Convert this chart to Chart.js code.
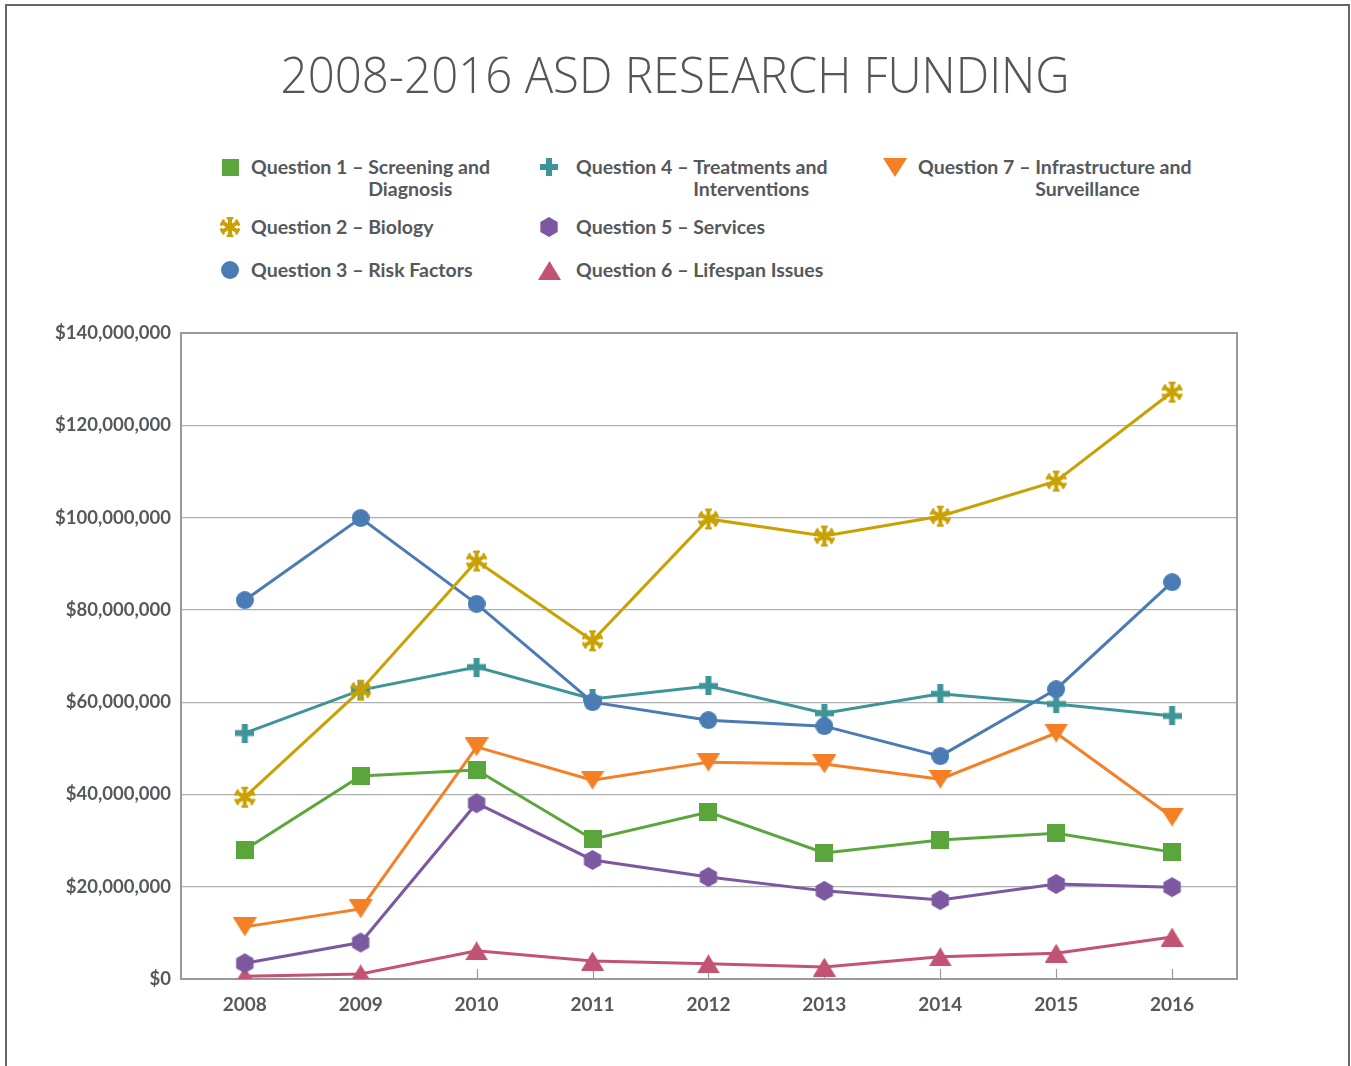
<!DOCTYPE html>
<html>
<head>
<meta charset="utf-8">
<script src="https://cdn.jsdelivr.net/npm/chart.js@4.4.1/dist/chart.umd.min.js"></script>
<style>
  html, body { margin:0; padding:0; background:#fff; }
  body { width:1351px; height:1066px; position:relative; overflow:hidden; font-family:Lato, "Open Sans", sans-serif; }
  #frame { position:absolute; left:5px; top:4px; width:1345px; height:1070px; border:2.5px solid #666; box-sizing:border-box; }
  #title { position:absolute; left:0; top:44px; width:1351px; text-align:center; font-family:"Open Sans", sans-serif; font-weight:300; font-size:50px; color:#555; line-height:60px; white-space:nowrap; }
  #title span { display:inline-block; transform-origin:center; }
  .lg { position:absolute; font-weight:700; font-size:19.5px; letter-spacing:0px; color:#55585c; line-height:22px; white-space:nowrap; }
  .lg .d { display:inline-block; vertical-align:top; }
  #wrap { position:absolute; left:0; top:300px; width:1351px; height:722px; }
</style>
</head>
<body>
<div id="frame"></div>
<div id="title"><span id="tspan">2008-2016 ASD RESEARCH FUNDING</span></div>
<div id="legend"></div>
<div id="wrap"><canvas id="c"></canvas></div>
<script>
const years = [2008, 2009, 2010, 2011, 2012, 2013, 2014, 2015, 2016];
const seriesNames = [
  "Question 1 – Screening and Diagnosis",
  "Question 2 – Biology",
  "Question 3 – Risk Factors",
  "Question 4 – Treatments and Interventions",
  "Question 5 – Services",
  "Question 6 – Lifespan Issues",
  "Question 7 – Infrastructure and Surveillance"
];
const q1 = [28.0, 44.0, 45.3, 30.3, 36.2, 27.3, 30.1, 31.6, 27.5];
const q2 = [39.4, 62.6, 90.6, 73.3, 99.7, 96.0, 100.3, 107.9, 127.2];
const q3 = [82.1, 99.9, 81.3, 60.0, 56.1, 54.8, 48.3, 62.8, 86.0];
const q4 = [53.3, 62.6, 67.6, 60.7, 63.5, 57.6, 61.8, 59.6, 57.0];
const q5 = [3.4, 7.9, 38.1, 25.8, 22.1, 19.1, 17.1, 20.6, 19.9];
const q6 = [0.6, 1.1, 6.1, 3.9, 3.3, 2.6, 4.8, 5.6, 9.1];
const q7 = [11.3, 15.2, 50.3, 43.1, 47.0, 46.6, 43.3, 53.3, 35.1];
const yTicks = [0, 20000000, 40000000, 60000000, 80000000, 100000000, 120000000, 140000000];

const colors = ['#5ba63c', '#c9a102', '#4a7bb4', '#3d9598', '#7b58a0', '#c25373', '#f47f25'];

function mk(w, h, fn) { const c = document.createElement('canvas'); c.width = w; c.height = h; const x = c.getContext('2d'); fn(x); return c; }
function hexagon(color, r) {
  return mk(2*r+2, 2*r+2, x => {
    x.fillStyle = color; x.beginPath();
    for (let i = 0; i < 6; i++) { const a = Math.PI/6 + i*Math.PI/3; const px = r+1 + r*Math.cos(a), py = r+1 + r*Math.sin(a); i ? x.lineTo(px,py) : x.moveTo(px,py); }
    x.closePath(); x.fill();
  });
}
function plus(color, s, t) {
  return mk(s, s, x => { x.fillStyle = color; x.fillRect((s-t)/2, 0, t, s); x.fillRect(0, (s-t)/2, s, t); });
}
function asterisk(color, s) {
  return mk(s, s, x => {
    x.strokeStyle = color; x.lineWidth = 4; x.lineCap = 'butt';
    const c = s/2, r = s/2 - 1;
    for (let i = 0; i < 3; i++) {
      const a = Math.PI/2 + i*Math.PI/3;
      x.beginPath(); x.moveTo(c + r*Math.cos(a), c + r*Math.sin(a)); x.lineTo(c - r*Math.cos(a), c - r*Math.sin(a)); x.stroke();
    }
    x.fillStyle = color;
    for (let i = 0; i < 6; i++) {
      const a = Math.PI/2 + i*Math.PI/3;
      x.save(); x.translate(c + (r-1.2)*Math.cos(a), c + (r-1.2)*Math.sin(a)); x.rotate(a);
      x.fillRect(-1.2, -3.4, 2.4, 6.8); x.restore();
    }
  });
}
function triUp(color, w, h) { return mk(w, h, x => { x.fillStyle = color; x.beginPath(); x.moveTo(w/2, 0); x.lineTo(w, h); x.lineTo(0, h); x.closePath(); x.fill(); }); }
function triDown(color, w, h) { return mk(w, h, x => { x.fillStyle = color; x.beginPath(); x.moveTo(0, 0); x.lineTo(w, 0); x.lineTo(w/2, h); x.closePath(); x.fill(); }); }
function square(color, s) { return mk(s, s, x => { x.fillStyle = color; x.fillRect(0,0,s,s); }); }
function circle(color, r) { return mk(2*r, 2*r, x => { x.fillStyle = color; x.beginPath(); x.arc(r, r, r, 0, Math.PI*2); x.fill(); }); }

const markers = [
  square(colors[0], 18),
  asterisk(colors[1], 23),
  circle(colors[2], 9),
  plus(colors[3], 19, 6),
  hexagon(colors[4], 10),
  triUp(colors[5], 23, 19),
  triDown(colors[6], 24, 19)
];
const legendMarkers = [
  square(colors[0], 17),
  asterisk(colors[1], 22),
  circle(colors[2], 9),
  plus(colors[3], 18, 6),
  hexagon(colors[4], 10),
  triUp(colors[5], 23, 19),
  triDown(colors[6], 24, 19)
];

const legendPos = [
  {x: 230, y: 167, tx: 251}, {x: 230, y: 227, tx: 251}, {x: 230, y: 270, tx: 251},
  {x: 549, y: 167, tx: 576}, {x: 549, y: 227, tx: 576}, {x: 549, y: 270, tx: 576},
  {x: 895, y: 167, tx: 918}
];
const legendEl = document.getElementById('legend');
seriesNames.forEach((name, i) => {
  const p = legendPos[i];
  const div = document.createElement('div');
  div.className = 'lg';
  div.style.left = p.tx + 'px';
  div.style.top = (p.y - 11) + 'px';
  const parts = name.split(' – ');
  const pre = document.createElement('span'); pre.textContent = parts[0] + ' – ';
  const desc = document.createElement('span'); desc.className = 'd';
  const words = parts[1];
  const idx = words.indexOf(' and ');
  if (idx >= 0) {
    desc.appendChild(document.createTextNode(words.slice(0, idx + 4)));
    desc.appendChild(document.createElement('br'));
    desc.appendChild(document.createTextNode(words.slice(idx + 5)));
  } else desc.textContent = words;
  div.appendChild(pre); div.appendChild(desc);
  legendEl.appendChild(div);
  const m = legendMarkers[i];
  m.style.position = 'absolute';
  m.style.left = (p.x - m.width/2) + 'px';
  m.style.top = (p.y - m.height/2) + 'px';
  legendEl.appendChild(m);
});

const ts = document.getElementById('tspan');
const tw = ts.getBoundingClientRect().width;
ts.style.transform = 'scaleX(' + (789 / tw) + ')';

const toM = arr => arr.map((v, i) => ({x: years[i], y: v * 1e6}));
const allData = [q1, q2, q3, q4, q5, q6, q7];
const datasets = allData.map((arr, i) => ({
  label: seriesNames[i],
  data: toM(arr),
  borderColor: colors[i],
  backgroundColor: colors[i],
  borderWidth: 3,
  pointStyle: markers[i],
  pointRadius: 10,
  pointHoverRadius: 10,
  tension: 0,
  fill: false
}));
const frame = {
  id: 'frame',
  beforeDatasetsDraw(chart) {
    const {ctx, chartArea: a, scales: {x}} = chart;
    ctx.save();
    ctx.strokeStyle = '#9a9a9a'; ctx.lineWidth = 1.2;
    years.forEach(yr => {
      const px = Math.round(x.getPixelForValue(yr)) + 0.5;
      ctx.beginPath(); ctx.moveTo(px, a.bottom); ctx.lineTo(px, a.bottom - 10); ctx.stroke();
    });
    ctx.strokeStyle = '#9a9a9a'; ctx.lineWidth = 2;
    ctx.strokeRect(a.left, a.top, a.right - a.left, a.bottom - a.top);
    ctx.restore();
  }
};
new Chart(document.getElementById('c'), {
  type: 'line',
  data: { datasets },
  options: {
    responsive: true,
    maintainAspectRatio: false,
    animation: false,
    layout: { padding: { top: 33, right: 114, left: 0, bottom: 0 } },
    plugins: { legend: { display: false }, tooltip: { enabled: false } },
    scales: {
      x: {
        type: 'linear', min: 2007.45, max: 2016.56,
        afterFit(s) { s.height = 43; },
        afterBuildTicks(s) { s.ticks = years.map(v => ({value: v})); },
        grid: { display: false },
        border: { display: false },
        ticks: { callback: v => String(v), color: '#55585c', font: { family: 'Lato', size: 19, weight: 'bold' }, padding: 6, maxRotation: 0 }
      },
      y: {
        min: 0, max: 140000000,
        afterFit(s) { s.width = 181; },
        afterBuildTicks(s) { s.ticks = yTicks.map(v => ({value: v})); },
        grid: { color: '#b0b0b0', lineWidth: 1.2, drawTicks: false },
        border: { display: false },
        ticks: { callback: v => '$' + v.toLocaleString('en-US'), color: '#55585c', font: { family: 'Lato', size: 18.5, weight: 'bold' }, padding: 10 }
      }
    }
  },
  plugins: [frame]
});
</script>
</body>
</html>
